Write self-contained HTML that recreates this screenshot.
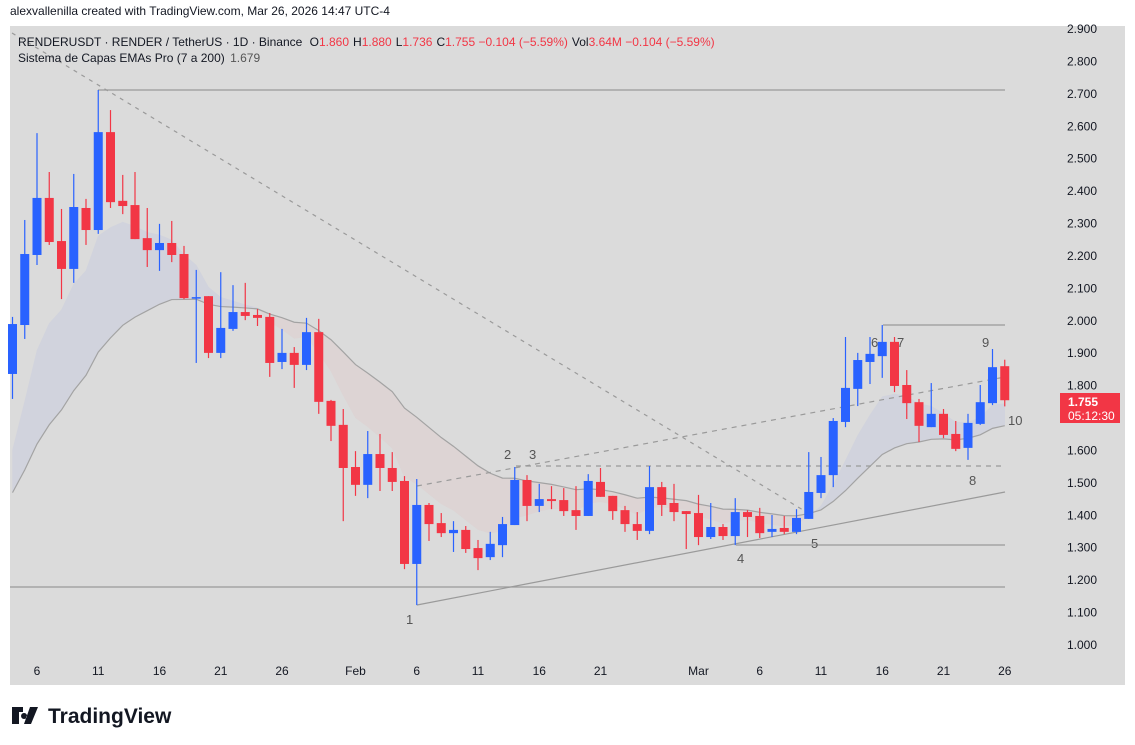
<!DOCTYPE html>
<html><head><meta charset="utf-8"><style>
body{margin:0;background:#fff;font-family:"Liberation Sans","DejaVu Sans",sans-serif;}
svg{display:block}
text{font-family:"Liberation Sans","DejaVu Sans",sans-serif;}
</style></head><body>
<svg id="chart" width="1135" height="745" xmlns="http://www.w3.org/2000/svg">
<text x="10" y="15" font-size="12" fill="#131722">alexvallenilla created with TradingView.com, Mar 26, 2026 14:47 UTC-4</text>
<rect x="10" y="26" width="1115" height="659" fill="#dbdbdb"/>
<g id="band"></g>
<g id="draw"></g>
<g id="candles"></g>
<g id="axis"></g>
<g font-size="12">
<text x="18" y="46" fill="#131722">RENDERUSDT · RENDER / TetherUS · 1D · Binance <tspan dx="4">O</tspan><tspan fill="#f23645">1.860</tspan><tspan dx="4">H</tspan><tspan fill="#f23645">1.880</tspan><tspan dx="4">L</tspan><tspan fill="#f23645">1.736</tspan><tspan dx="4">C</tspan><tspan fill="#f23645">1.755 −0.104 (−5.59%)</tspan><tspan dx="4">Vol</tspan><tspan fill="#f23645">3.64M −0.104 (−5.59%)</tspan></text>
<text x="18" y="62" fill="#131722">Sistema de Capas EMAs Pro (7 a 200) <tspan dx="2" fill="#555">1.679</tspan></text>
</g>
<g>
<rect x="1060" y="393" width="60" height="30" fill="#f23645"/>
<text x="1068" y="406" font-size="12" font-weight="bold" fill="#fff">1.755</text>
<text x="1068" y="420" font-size="12" fill="#fff">05:12:30</text>
</g>
<g>
<path d="M12 707h11v5h-4v12h-7zM24 713a3 3 0 1 0 0.1 0zM30 707h8l-7 17h-7z" fill="#131722"/>
<text x="48" y="723" font-size="21" font-weight="bold" fill="#131722">TradingView</text>
</g>
</svg>
<script>
const dates=[4,5,6,7,8,9,10,11,12,13,14,15,16,17,18,19,20,21,22,23,24,25,26,27,28,29,30,31,32,33,34,35,36,37,38,39,40,41,42,43,44,45,46,47,48,49,50,51,52,53,54,55,56,57,58,59,60,61,62,63,64,65,66,67,68,69,70,71,72,73,74,75,76,77,78,79,80,81,82,83,84,85];
const opens=[1.836,1.987,2.203,2.379,2.246,2.160,2.348,2.280,2.582,2.370,2.357,2.255,2.218,2.240,2.206,2.070,2.076,1.901,1.975,2.027,2.018,2.012,1.873,1.901,1.864,1.965,1.753,1.679,1.549,1.494,1.589,1.546,1.506,1.250,1.432,1.376,1.345,1.355,1.299,1.271,1.308,1.370,1.509,1.429,1.450,1.447,1.416,1.398,1.503,1.460,1.416,1.373,1.352,1.487,1.438,1.413,1.407,1.333,1.364,1.336,1.410,1.398,1.349,1.361,1.349,1.389,1.469,1.524,1.688,1.790,1.873,1.891,1.935,1.802,1.749,1.672,1.713,1.651,1.608,1.682,1.746,1.860];
const highs=[2.012,2.311,2.579,2.459,2.345,2.453,2.376,2.712,2.650,2.450,2.459,2.348,2.299,2.308,2.231,2.157,2.076,2.150,2.110,2.117,2.036,2.024,1.975,1.919,2.009,2.006,1.756,1.728,1.598,1.660,1.651,1.595,1.521,1.512,1.438,1.407,1.382,1.367,1.324,1.349,1.395,1.549,1.524,1.497,1.490,1.484,1.490,1.527,1.546,1.460,1.429,1.410,1.552,1.503,1.497,1.413,1.463,1.438,1.373,1.453,1.416,1.423,1.401,1.398,1.419,1.595,1.580,1.700,1.950,1.901,1.950,1.987,1.950,1.848,1.759,1.808,1.728,1.691,1.713,1.802,1.913,1.880];
const lows=[1.759,1.944,2.172,2.234,2.067,2.117,2.234,2.268,2.348,2.329,2.252,2.166,2.154,2.181,2.067,1.870,1.885,1.885,1.969,2.002,1.984,1.827,1.851,1.793,1.848,1.713,1.629,1.382,1.460,1.453,1.475,1.475,1.234,1.123,1.321,1.333,1.287,1.284,1.231,1.262,1.271,1.370,1.382,1.410,1.419,1.398,1.355,1.398,1.457,1.386,1.349,1.324,1.342,1.398,1.382,1.296,1.308,1.327,1.324,1.308,1.333,1.330,1.333,1.342,1.342,1.389,1.453,1.487,1.672,1.737,1.805,1.824,1.780,1.697,1.626,1.672,1.638,1.598,1.571,1.679,1.740,1.736];
const closes=[1.990,2.206,2.379,2.243,2.160,2.351,2.280,2.582,2.366,2.354,2.252,2.218,2.240,2.203,2.070,2.073,1.901,1.978,2.027,2.015,2.009,1.870,1.901,1.864,1.965,1.750,1.676,1.546,1.494,1.589,1.546,1.503,1.250,1.432,1.373,1.345,1.355,1.296,1.268,1.312,1.373,1.509,1.429,1.450,1.444,1.413,1.398,1.506,1.457,1.413,1.373,1.352,1.487,1.432,1.410,1.404,1.333,1.364,1.336,1.410,1.395,1.345,1.358,1.349,1.392,1.472,1.524,1.691,1.793,1.879,1.898,1.935,1.799,1.746,1.676,1.713,1.648,1.605,1.685,1.749,1.857,1.755];
const priceTicks=["1.000","1.100","1.200","1.300","1.400","1.500","1.600","1.700","1.800","1.900","2.000","2.100","2.200","2.300","2.400","2.500","2.600","2.700","2.800","2.900"];
const timeTickDays=[6,11,16,21,26,32,37,42,47,52,60,65,70,75,80,85];
const timeTickLabels=["6","11","16","21","26","Feb","6","11","16","21","Mar","6","11","16","21","26"];

const NS="http://www.w3.org/2000/svg";
const X=d=>-36.5+d*12.25;
const Y=p=>645-(p-1)*324.2;
function mk(tag,attrs,parent){const e=document.createElementNS(NS,tag);for(const k in attrs)e.setAttribute(k,attrs[k]);parent.appendChild(e);return e;}

// EMA band (derived from closes)
const fast=[],slow=[];
const af=2/8,as=2/21;
closes.forEach((c,i)=>{fast.push(i?fast[i-1]+af*(c-fast[i-1]):1.60);slow.push(i?slow[i-1]+as*(c-slow[i-1]):1.47);});
const band=document.getElementById('band');
for(let i=0;i<closes.length-1;i++){
  const up=(fast[i]+fast[i+1])>=(slow[i]+slow[i+1]);
  const x0=X(dates[i]),x1=X(dates[i+1]);
  const pg=mk('polygon',{points:`${x0},${Y(fast[i])} ${x1},${Y(fast[i+1])} ${x1},${Y(slow[i+1])} ${x0},${Y(slow[i])}`,fill:up?'#d1d3dd':'#ddd4d4',stroke:up?'#d1d3dd':'#ddd4d4','stroke-width':0.5},band);
  
  
}
const sl=mk('polyline',{points:slow.map((v,i)=>`${X(dates[i])},${Y(v)}`).join(' '),fill:'none',stroke:'#a3a3a3','stroke-width':1.2},band);



// drawings
const dr=document.getElementById('draw');
const lines=[
 [98,90,1005,90,''],[12,33,808,513,'4,5'],[10,587,1005,587,''],[417,605,1005,492,''],
 [417,486,1005,377,'5,5'],[516,466,1005,466,'5,5'],[736,545,1005,545,''],[883,325,1005,325,'']];
lines.forEach(l=>{const e=mk('line',{x1:l[0],y1:l[1],x2:l[2],y2:l[3],stroke:'#9a9a9a','stroke-width':1.2},dr);if(l[4])e.setAttribute('stroke-dasharray',l[4]);
 
 });
const labs=[["1",406,624],["2",504,459],["3",529,459],["4",737,563],["5",811,548],["6",871,347],["7",897,347],["8",969,485],["9",982,347],["10",1008,425]];
labs.forEach(t=>{const e=mk('text',{x:t[1],y:t[2],'font-size':13,fill:'#555'},dr);e.textContent=t[0];
 
 });

// candles
const cg=document.getElementById('candles');
closes.forEach((c,i)=>{
  const o=opens[i],x=X(dates[i]),col=c>=o?'#2962ff':'#f23645';
  const w=mk('line',{x1:x,x2:x,y1:Y(highs[i]),y2:Y(lows[i]),stroke:col,'stroke-width':1.2},cg);
  
  
  const top=Y(Math.max(o,c)),bot=Y(Math.min(o,c));
  const b=mk('rect',{x:x-4.5,y:top,width:9,height:Math.max(1.5,bot-top),fill:col},cg);
  
  
});

// axes
const ax=document.getElementById('axis');
priceTicks.forEach(t=>{const y=Y(parseFloat(t));if(Math.abs(y-Y(1.755))<14)return;
 const e=mk('text',{x:1067,y:y+4,'font-size':12,fill:'#131722'},ax);e.textContent=t;
 
 });
timeTickDays.forEach((d,i)=>{const e=mk('text',{x:X(d),y:675,'font-size':12,fill:'#131722','text-anchor':'middle'},ax);e.textContent=timeTickLabels[i];
 
 });
</script>
</body></html>
